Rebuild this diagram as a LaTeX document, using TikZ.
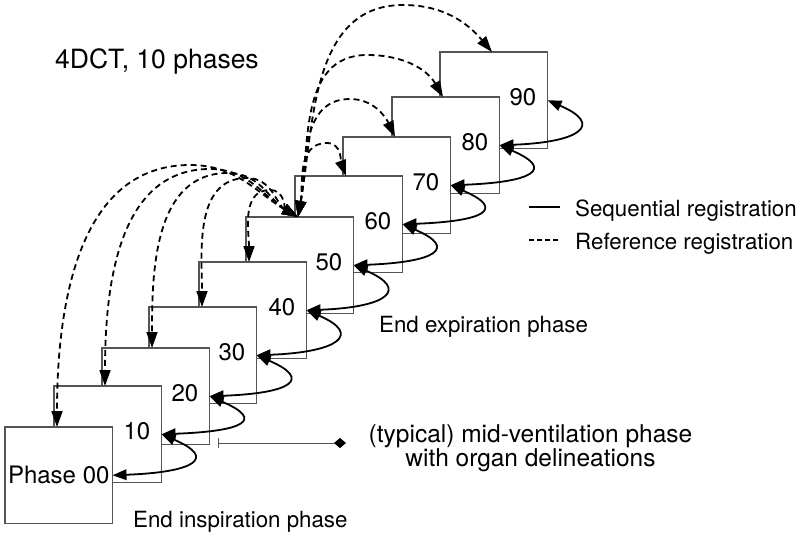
\documentclass[tikz,border=0pt]{standalone}
\usepackage{fontspec}
\setmainfont{TeX Gyre Heros}
\usetikzlibrary{arrows.meta,calc}
\definecolor{boxgray}{RGB}{85,85,85}
\begin{document}
\begin{tikzpicture}[x=1pt,y=1pt,
  font=\fontsize{22.3}{24}\selectfont,
  box/.style={draw=boxgray, line width=1.2pt, fill=white, minimum width=107.5pt, minimum height=96.5pt, inner sep=0pt, outer sep=0pt, anchor=north west, font=\fontsize{24}{26}\selectfont},
  num/.style={anchor=east, inner sep=0pt, font=\fontsize{24}{26}\selectfont},
  seq/.style={line width=1.8pt, {Triangle[length=14pt,width=10.5pt]}-{Triangle[length=14pt,width=10.5pt]}},
  refl/.style={line width=1.8pt, dash pattern=on 6pt off 4pt, {Triangle[length=16pt,width=11pt]}-{Triangle[length=16pt,width=11pt]}},
  lab/.style={anchor=base west, inner sep=0pt},
  ctr/.style={anchor=base, inner sep=0pt, font=\fontsize{24.5}{26}\selectfont}
]
\useasboundingbox (0,0) rectangle (800,-536);
% boxes, back to front
\node[box] (b9) at (440,-52) {};
\node[box] (b8) at (392,-97) {};
\node[box] (b7) at (343,-137) {};
\node[box] (b6) at (295,-176) {};
\node[box] (b5) at (246,-217) {};
\node[box] (b4) at (199,-262) {};
\node[box] (b3) at (149,-307) {};
\node[box] (b2) at (102,-348) {};
\node[box] (b1) at (54,-386) {};
\node[box] (b0) at (5,-427) {Phase 00};
% numbers
\foreach \i in {1,...,9} {
  \node[num] (n\i) at ($(b\i.east)+(-11,3)$) {\i0};
}
% sequential registrations
\foreach \a/\b in {9/8,8/7,7/6,6/5,5/4,4/3,3/2,2/1,1/0} {
  \draw[seq] (b\a.east) .. controls +(56,-24) and +(82,3) .. (b\b.east);
}
% reference registrations
\coordinate (P) at ($(b5.north -| b6.west)+(3,0)$);
\foreach \i/\j in {0/1,1/2,2/3,3/4,4/5,6/7,7/8,8/9} {
  \coordinate (t\i) at ($(b\i.north -| b\j.west)+(3,0)$);
}
\coordinate (t9) at ($(b9.north west)+(52,0)$);
\coordinate (m0) at (190,-165);
\coordinate (m1) at (210,-169);
\coordinate (m2) at (228,-173);
\coordinate (m3) at (247,-178);
\coordinate (m4) at (270,-190);
\coordinate (m6) at (327,-143);
\coordinate (m7) at (350,-99);
\coordinate (m8) at (367,-55);
\coordinate (m9) at (403,-5);
\foreach \i in {0,...,4} {
  \draw[refl] (P) to[out=150,in=0] (m\i) to[out=180,in=90] (t\i);
}
\draw[refl] (P) to[out=80,in=180] (m6) to[out=0,in=110] (t6);
\draw[refl] (P) to[out=80,in=180] (m7) to[out=0,in=115] (t7);
\draw[refl] (P) to[out=80,in=180] (m8) to[out=0,in=120] (t8);
\draw[refl] (P) to[out=80,in=180] (m9) to[out=0,in=130] (t9);
% texts
\node[lab, font=\fontsize{26.5}{28}\selectfont] (title) at (55,-68) {4DCT, 10 phases};
\node[lab] (lt1) at (575,-216) {Sequential registration};
\node[lab] (lt2) at (575,-249) {Reference registration};
\coordinate (ls1) at (529,-207);
\coordinate (ls2) at (560,-207);
\coordinate (ld1) at (529,-240);
\coordinate (ld2) at (560,-240);
\draw[line width=1.8pt] (ls1) -- (ls2);
\draw[line width=1.4pt, dash pattern=on 5pt off 3pt] (ld1) -- (ld2);
\node[lab] (ee) at (379,-332) {End expiration phase};
\node[lab] (ei) at (133,-527) {End inspiration phase};
\node[ctr] (mv1) at (530.5,-442) {(typical) mid-ventilation phase};
\node[ctr] (mv2) at (530.5,-466) {with organ delineations};
\coordinate (mvbar) at (218,-443);
\coordinate (mvdia) at (346,-443);
\draw[line width=0.9pt, boxgray, {Bar[width=10pt]}-{Diamond[length=12pt,width=10pt,color=black]}] (mvbar) -- (mvdia);
\end{tikzpicture}
\end{document}
